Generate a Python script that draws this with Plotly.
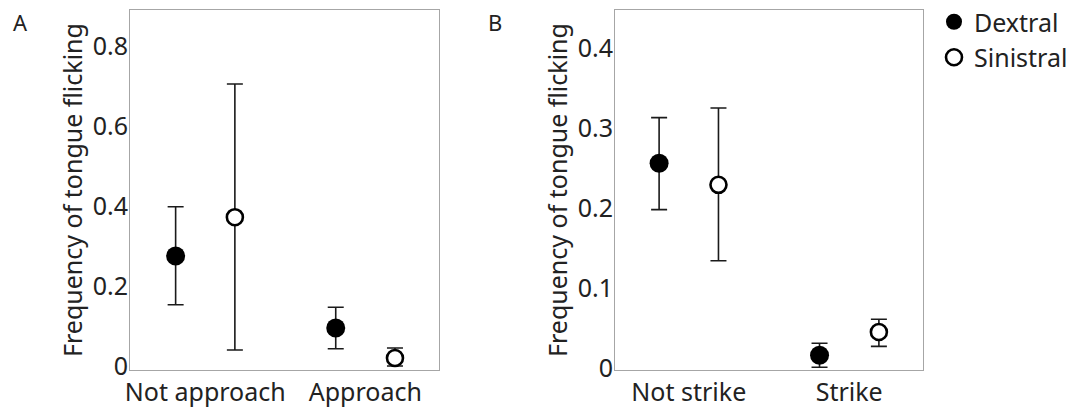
import plotly.graph_objects as go

# Panel A data
cats_a = ["Not approach", "Approach"]
dex_a = [0.275, 0.095]
dex_a_hi = [0.398, 0.147]
dex_a_lo = [0.153, 0.043]
sin_a = [0.372, 0.020]
sin_a_hi = [0.705, 0.045]
sin_a_lo = [0.040, 0.000]

# Panel B data
cats_b = ["Not strike", "Strike"]
dex_b = [0.256, 0.016]
dex_b_hi = [0.313, 0.031]
dex_b_lo = [0.198, 0.001]
sin_b = [0.229, 0.045]
sin_b_hi = [0.325, 0.061]
sin_b_lo = [0.134, 0.027]

ticks_a = [0, 0.2, 0.4, 0.6, 0.8]
tick_text_a = ["0", "0.2", "0.4", "0.6", "0.8"]
ticks_b = [0, 0.1, 0.2, 0.3, 0.4]
tick_text_b = ["0", "0.1", "0.2", "0.3", "0.4"]

FONT = "Noto Sans"
FS = 25
OFF = 0.185

fig = go.Figure()


def add_pair(cats, dex, dhi, dlo, sin, shi, slo, xa, ya, show):
    xs = list(range(len(cats)))
    fig.add_trace(go.Scatter(
        x=[x - OFF for x in xs], y=dex, mode="markers", name="Dextral",
        legendgroup="d", showlegend=show, xaxis=xa, yaxis=ya,
        marker=dict(size=19, color="black", line=dict(width=0)),
        error_y=dict(type="data", symmetric=False,
                     array=[h - m for h, m in zip(dhi, dex)],
                     arrayminus=[m - l for m, l in zip(dex, dlo)],
                     color="#1a1a1a", thickness=1.6, width=8)))
    fig.add_trace(go.Scatter(
        x=[x + OFF for x in xs], y=sin, mode="markers", name="Sinistral",
        legendgroup="s", showlegend=show, xaxis=xa, yaxis=ya,
        marker=dict(size=16, color="white", line=dict(width=2.6, color="black")),
        error_y=dict(type="data", symmetric=False,
                     array=[h - m for h, m in zip(shi, sin)],
                     arrayminus=[m - l for m, l in zip(sin, slo)],
                     color="#1a1a1a", thickness=1.6, width=8)))


add_pair(cats_a, dex_a, dex_a_hi, dex_a_lo, sin_a, sin_a_hi, sin_a_lo, "x", "y", True)
add_pair(cats_b, dex_b, dex_b_hi, dex_b_lo, sin_b, sin_b_hi, sin_b_lo, "x2", "y2", False)

W, H = 1073, 407
TOP, BOT = 10, 370
PH = BOT - TOP


def py(pix):
    return (BOT - pix) / PH


axis_common = dict(showline=True, mirror=True, linecolor="#a6a6a6", linewidth=1,
                   showgrid=False, zeroline=False, ticks="",
                   tickfont=dict(family=FONT, size=FS, color="#222"))

fig.update_layout(
    width=W, height=H,
    margin=dict(l=0, r=0, t=TOP, b=H - BOT, autoexpand=False),
    paper_bgcolor="white", plot_bgcolor="white",
    font=dict(family=FONT, color="#222"),
    xaxis=dict(domain=[130 / W, 439 / W], range=[-0.47, 1.46],
               tickvals=[0, 1], ticktext=cats_a, automargin=False, **axis_common),
    yaxis=dict(range=[-0.01, 0.89], tickvals=ticks_a, ticktext=tick_text_a,
               ticklabelstandoff=-4, automargin=False,
               title=dict(text="Frequency of tongue flicking", standoff=2,
                          font=dict(family=FONT, size=FS, color="#222")),
               **axis_common),
    xaxis2=dict(domain=[615 / W, 923 / W], range=[-0.46, 1.46],
                tickvals=[0, 1], ticktext=cats_b, anchor="y2", automargin=False,
                **axis_common),
    yaxis2=dict(range=[-0.0025, 0.4475], tickvals=ticks_b, ticktext=tick_text_b,
                anchor="x2", ticklabelstandoff=-4, automargin=False,
                title=dict(text="Frequency of tongue flicking", standoff=2,
                           font=dict(family=FONT, size=FS, color="#222")),
                **axis_common),
    legend=dict(x=934 / W, y=py(-1), xanchor="left", yanchor="top",
                font=dict(family=FONT, size=FS, color="#222"),
                itemwidth=30, tracegroupgap=0, bgcolor="rgba(0,0,0,0)"),
    annotations=[
        dict(text="A", x=11 / W, y=py(22), xref="paper", yref="paper",
             xanchor="left", yanchor="middle", showarrow=False,
             font=dict(family=FONT, size=22, color="#222")),
        dict(text="B", x=486 / W, y=py(22), xref="paper", yref="paper",
             xanchor="left", yanchor="middle", showarrow=False,
             font=dict(family=FONT, size=22, color="#222")),
    ],
)

fig.write_html("out.html", config={"displayModeBar": False},
               post_script="document.body.style.margin='0';")
